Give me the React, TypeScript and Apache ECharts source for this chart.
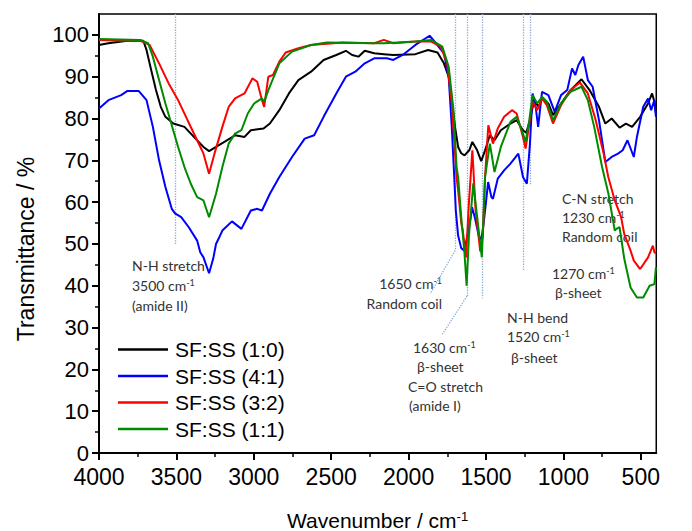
import React, { useEffect, useRef } from "react";
import * as echarts from "echarts";

// ---------------- data ----------------
const seriesNames = ["SF:SS (1:0)", "SF:SS (4:1)", "SF:SS (3:2)", "SF:SS (1:1)"];
const seriesColors = ["#000000", "#0000ff", "#ff0000", "#008a00"];

const wnBlack = [4000, 3940, 3816, 3714, 3693, 3663, 3632, 3601, 3571, 3520, 3448, 3387, 3325, 3289, 3244, 3182, 3121, 3060, 3019, 2937, 2896, 2835, 2773, 2712, 2630, 2549, 2467, 2405, 2365, 2324, 2283, 2222, 2160, 2099, 1956, 1874, 1813, 1772, 1741, 1721, 1700, 1680, 1660, 1639, 1608, 1588, 1557, 1531, 1506, 1475, 1445, 1404, 1342, 1302, 1261, 1240, 1216, 1189, 1159, 1138, 1097, 1067, 1015, 954, 883, 831, 770, 729, 688, 637, 596, 556, 504, 453, 427, 412, 402];
const tBlack = [97.6, 98.0, 98.6, 98.6, 96.4, 91.6, 86.8, 82.8, 80.4, 78.8, 78.0, 75.6, 73.2, 72.2, 73.2, 74.6, 76.0, 75.6, 77.2, 77.6, 78.8, 82.0, 86.0, 89.2, 91.2, 94.0, 95.2, 96.2, 95.2, 94.8, 96.2, 95.6, 95.4, 95.2, 95.4, 96.4, 95.8, 93.2, 90.0, 84.4, 78.0, 73.2, 71.7, 71.2, 72.4, 74.4, 72.4, 69.8, 72.4, 76.0, 74.8, 77.2, 78.8, 79.6, 77.2, 76.6, 79.6, 84.4, 82.8, 84.8, 83.6, 80.8, 83.6, 86.8, 89.4, 86.8, 82.8, 78.8, 80.0, 77.8, 78.8, 78.0, 80.4, 83.6, 86.0, 84.0, 81.2];

const wnBlue = [4000, 3939, 3857, 3816, 3744, 3693, 3652, 3612, 3571, 3530, 3509, 3469, 3420, 3366, 3346, 3325, 3289, 3262, 3244, 3223, 3203, 3141, 3080, 3019, 2978, 2947, 2896, 2835, 2753, 2671, 2610, 2549, 2467, 2405, 2344, 2283, 2222, 2140, 2099, 2038, 1956, 1864, 1823, 1772, 1741, 1721, 1705, 1695, 1680, 1660, 1640, 1620, 1600, 1590, 1570, 1547, 1530, 1515, 1500, 1486, 1465, 1455, 1424, 1383, 1342, 1291, 1261, 1236, 1216, 1199, 1179, 1163, 1138, 1097, 1056, 1015, 975, 944, 923, 903, 872, 842, 811, 770, 729, 688, 647, 617, 586, 545, 525, 484, 453, 433, 412, 402];
const tBlue = [82.4, 84.4, 85.6, 86.6, 86.6, 84.4, 78.0, 70.0, 63.6, 58.4, 57.3, 56.4, 54.0, 50.8, 48.0, 46.8, 43.0, 46.5, 50.0, 51.6, 53.2, 55.4, 53.6, 58.0, 58.4, 58.0, 62.0, 66.0, 70.8, 75.2, 76.0, 80.4, 86.0, 90.0, 91.2, 93.2, 94.4, 94.4, 94.0, 95.2, 97.6, 99.8, 98.0, 95.6, 90.0, 78.0, 66.0, 58.0, 52.0, 49.0, 48.4, 52.0, 56.0, 58.8, 56.0, 52.0, 51.0, 55.0, 60.0, 64.8, 61.2, 60.8, 65.6, 67.6, 69.2, 71.6, 66.0, 64.4, 74.0, 86.0, 82.8, 78.0, 86.4, 85.6, 81.6, 85.6, 86.8, 92.0, 90.4, 92.8, 94.8, 89.2, 87.6, 79.6, 69.6, 70.8, 71.6, 72.4, 74.8, 70.8, 75.6, 82.8, 84.8, 82.0, 84.4, 80.4];

const wnRed = [4000, 3857, 3734, 3673, 3612, 3550, 3489, 3428, 3366, 3325, 3289, 3254, 3203, 3162, 3121, 3060, 3009, 2978, 2947, 2933, 2906, 2876, 2835, 2794, 2712, 2630, 2426, 2222, 2160, 2099, 1956, 1854, 1792, 1751, 1721, 1690, 1680, 1659, 1650, 1629, 1610, 1588, 1567, 1537, 1520, 1506, 1485, 1455, 1424, 1383, 1332, 1302, 1261, 1244, 1220, 1199, 1169, 1138, 1107, 1067, 1015, 954, 893, 842, 791, 740, 710, 668, 627, 607, 566, 545, 504, 453, 422, 412, 402];
const tRed = [98.8, 98.6, 98.6, 97.6, 93.2, 88.4, 84.4, 79.6, 74.8, 71.6, 66.8, 71.6, 78.0, 82.8, 84.8, 86.0, 89.6, 88.8, 84.4, 82.8, 90.0, 90.4, 93.6, 95.8, 96.8, 97.6, 98.2, 98.0, 98.8, 98.0, 98.4, 98.4, 97.2, 93.2, 83.6, 66.0, 62.8, 54.8, 53.2, 46.8, 60.0, 72.4, 58.0, 48.2, 52.0, 66.0, 78.4, 74.0, 77.6, 80.4, 82.0, 81.2, 75.6, 72.8, 78.8, 84.0, 82.0, 84.8, 83.2, 78.8, 83.2, 86.8, 88.6, 86.0, 79.6, 71.6, 66.0, 60.4, 56.4, 52.4, 48.4, 46.0, 44.0, 46.8, 49.6, 48.0, 47.7];

const wnGreen = [4000, 3734, 3683, 3652, 3612, 3571, 3530, 3489, 3448, 3407, 3366, 3325, 3289, 3244, 3203, 3162, 3121, 3080, 3039, 2998, 2947, 2933, 2906, 2835, 2753, 2630, 2528, 2222, 2160, 1956, 1854, 1782, 1741, 1710, 1690, 1680, 1660, 1640, 1625, 1610, 1582, 1557, 1527, 1506, 1475, 1445, 1404, 1342, 1302, 1261, 1244, 1220, 1199, 1169, 1138, 1107, 1067, 1015, 954, 883, 842, 801, 750, 709, 668, 657, 637, 607, 566, 525, 484, 443, 412, 402];
const tGreen = [99.0, 98.8, 98.0, 94.8, 89.2, 83.6, 78.4, 73.2, 68.4, 64.4, 61.2, 60.4, 56.4, 62.0, 68.4, 74.0, 76.4, 77.2, 81.2, 83.6, 84.8, 84.0, 86.8, 93.2, 96.0, 97.6, 98.2, 98.0, 98.0, 98.4, 98.8, 97.2, 92.4, 82.0, 68.4, 66.0, 56.4, 48.4, 40.0, 52.0, 64.5, 56.4, 46.8, 66.0, 74.0, 67.2, 73.2, 79.2, 80.4, 76.4, 74.4, 79.6, 85.6, 83.6, 85.2, 84.0, 79.6, 83.6, 86.4, 87.6, 84.4, 78.0, 68.4, 62.0, 53.2, 53.6, 54.0, 46.5, 39.6, 37.2, 37.2, 40.0, 40.4, 44.4];

const xTickValues = [4000, 3500, 3000, 2500, 2000, 1500, 1000, 500];
const xMinorValues = [3750, 3250, 2750, 2250, 1750, 1250, 750];
const yTickValues = [0, 10, 20, 30, 40, 50, 60, 70, 80, 90, 100];
const yMinorValues = [5, 15, 25, 35, 45, 55, 65, 75, 85, 95];

// guide lines (wavenumber, transmittance) as polylines
const guideLines: number[][][] = [
  [[3510, 105], [3510, 50]],
  [[1700, 105], [1700, 48.4], [1860, 38.1]],
  [[1623, 105], [1623, 37.5], [1782, 28.4]],
  [[1521, 105], [1521, 37]],
  [[1261, 105], [1261, 43.6]],
  [[1216, 105], [1216, 64]],
];

// annotation lines: text, x, y, align
const annotations: [string, number, number, string][] = [
  ["N-H stretch", 132, 265, "left"],
  ["3500 cm{s|-1}", 132, 285, "left"],
  ["(amide II)", 132, 305, "left"],
  ["1650 cm{s|-1}", 442, 283, "right"],
  ["Random coil", 442, 303, "right"],
  ["1630 cm{s|-1}", 413, 347, "left"],
  ["β-sheet", 417, 366, "left"],
  ["C=O stretch", 408, 386, "left"],
  ["(amide I)", 409, 405, "left"],
  ["N-H bend", 507, 317, "left"],
  ["1520 cm{s|-1}", 507, 336, "left"],
  ["β-sheet", 511, 357, "left"],
  ["1270 cm{s|-1}", 552, 273, "left"],
  ["β-sheet", 555, 292, "left"],
  ["C-N stretch", 562, 198, "left"],
  ["1230 cm{s|-1}", 562, 217, "left"],
  ["Random coil", 562, 236, "left"],
];

const AXIS_FONT = "'Liberation Sans', Arial, sans-serif";

export default function App() {
  const ref = useRef<HTMLDivElement>(null);

  useEffect(() => {
    if (!ref.current) return;
    const chart = echarts.init(ref.current, undefined, { renderer: "svg" });

    const wns = [wnBlack, wnBlue, wnRed, wnGreen];
    const ts = [tBlack, tBlue, tRed, tGreen];

    const markLineData: any[] = [];
    guideLines.forEach((pl) => {
      for (let i = 0; i < pl.length - 1; i++) {
        markLineData.push([{ coord: pl[i] }, { coord: pl[i + 1] }]);
      }
    });

    const series: any[] = seriesNames.map((name, i) => ({
      name,
      type: "line",
      xAxisIndex: 0,
      yAxisIndex: 0,
      data: wns[i].map((w, j) => [w, ts[i][j]]),
      symbol: "none",
      showSymbol: false,
      lineStyle: { width: 2, color: seriesColors[i] },
      itemStyle: { color: seriesColors[i] },
      z: 3 + i,
      ...(i === 0
        ? {
            markLine: {
              silent: true,
              symbol: ["none", "none"],
              label: { show: false },
              lineStyle: { type: "dotted", color: "#86acd8", width: 1.3 },
              emphasis: { disabled: true },
              data: markLineData,
              z: 1,
            },
          }
        : {}),
    }));

    const annFont = "Lato, 'Open Sans', sans-serif";
    const graphics: any[] = annotations.map(([text, x, y, align]) => ({
      type: "text",
      x,
      y,
      silent: true,
      style: {
        text,
        fill: "#333333",
        fontSize: 14,
        fontFamily: annFont,
        align,
        textAlign: align,
        verticalAlign: "middle",
        textVerticalAlign: "middle",
        rich: {
          s: { fontSize: 9, fontFamily: annFont, fill: "#333333", verticalAlign: "top", lineHeight: 12 },
        },
      },
    }));

    graphics.push({
      type: "text",
      x: 287,
      y: 520,
      silent: true,
      style: {
        text: "Wavenumber / cm{s|-1}",
        fill: "#000",
        fontSize: 21,
        fontFamily: AXIS_FONT,
        align: "left",
        textAlign: "left",
        verticalAlign: "middle",
        textVerticalAlign: "middle",
        rich: { s: { fontSize: 13, fontFamily: AXIS_FONT, fill: "#000", verticalAlign: "top", lineHeight: 14 } },
      },
    });
    graphics.push({
      type: "text",
      x: 26,
      y: 249,
      rotation: Math.PI / 2,
      silent: true,
      style: {
        text: "Transmittance / %",
        fill: "#000",
        fontSize: 23,
        fontFamily: AXIS_FONT,
        align: "center",
        textAlign: "center",
        verticalAlign: "middle",
        textVerticalAlign: "middle",
      },
    });

    const axisBase = {
      type: "value",
      splitLine: { show: false },
    };

    chart.setOption({
      animation: false,
      backgroundColor: "#ffffff",
      grid: {
        left: 99,
        right: 5,
        top: 14,
        bottom: 78,
        show: true,
        borderColor: "#000",
        borderWidth: 1.5,
        containLabel: false,
      },
      legend: {
        orient: "vertical",
        left: 113,
        top: 334,
        icon: "rect",
        itemWidth: 50,
        itemHeight: 2.5,
        itemGap: 5.5,
        selectedMode: false,
        textStyle: { fontSize: 21, fontFamily: AXIS_FONT, color: "#000", padding: [0, 0, 0, 2] },
        data: seriesNames,
      },
      xAxis: [
        {
          ...axisBase,
          position: "bottom",
          inverse: true,
          min: 400,
          max: 4000,
          axisLine: { show: true, onZero: false, lineStyle: { color: "#000", width: 2 } },
          axisTick: { show: true, inside: false, length: 7, customValues: xTickValues, lineStyle: { color: "#000", width: 2 } },
          axisLabel: {
            show: true,
            customValues: xTickValues,
            formatter: (v: number) => String(v),
            margin: 15,
            fontSize: 23,
            lineHeight: 18,
            fontFamily: AXIS_FONT,
            color: "#000",
            showMinLabel: true,
            showMaxLabel: true,
          },
        },
        {
          ...axisBase,
          position: "bottom",
          inverse: true,
          min: 400,
          max: 4000,
          axisLine: { show: false, onZero: false },
          axisTick: { show: true, inside: false, length: 4, customValues: xMinorValues, lineStyle: { color: "#000", width: 1.5 } },
          axisLabel: { show: false },
        },
      ],
      yAxis: [
        {
          ...axisBase,
          position: "left",
          min: 0,
          max: 105,
          axisLine: { show: true, onZero: false, lineStyle: { color: "#000", width: 2 } },
          axisTick: { show: true, inside: false, length: 7, customValues: yTickValues, lineStyle: { color: "#000", width: 2 } },
          axisLabel: {
            show: true,
            customValues: yTickValues,
            formatter: (v: number) => String(v),
            margin: 10,
            fontSize: 22,
            lineHeight: 18,
            fontFamily: AXIS_FONT,
            color: "#000",
          },
        },
        {
          ...axisBase,
          position: "left",
          min: 0,
          max: 105,
          axisLine: { show: false, onZero: false },
          axisTick: { show: true, inside: false, length: 4, customValues: yMinorValues, lineStyle: { color: "#000", width: 1.5 } },
          axisLabel: { show: false },
        },
      ],
      series,
      graphic: graphics,
    });

    return () => {
      chart.dispose();
    };
  }, []);

  return (
    <div
      ref={ref}
      style={{ position: "fixed", left: 0, top: 0, width: 692, height: 531, background: "#fff" }}
    />
  );
}
